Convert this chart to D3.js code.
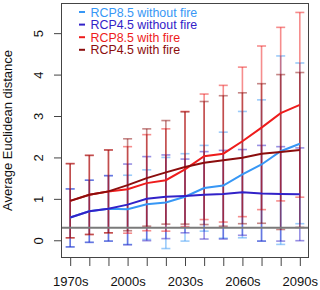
<!DOCTYPE html>
<html>
<head>
<meta charset="utf-8">
<script src="https://cdn.jsdelivr.net/npm/d3@7"></script>
<style>
  body { margin: 0; background: #fff; }
  svg { display: block; font-family: 'Liberation Sans', Arial, sans-serif; }
</style>
</head>
<body>
<div id="chart"></div>
<script>
const decades = ['1970s', '1980s', '1990s', '2000s', '2010s', '2020s', '2030s',
  '2040s', '2050s', '2060s', '2070s', '2080s', '2090s'];
const shown_labels = ['1970s', '2000s', '2030s', '2060s', '2090s'];
const y_ticks = [0, 1, 2, 3, 4, 5];
const threshold = 0.3;

const series_names = ['RCP8.5 without fire', 'RCP4.5 without fire', 'RCP8.5 with fire', 'RCP4.5 with fire'];
const series_colors = ['#3797f5', '#3222c8', '#ee1c1c', '#8b0d0d'];

// mean of each series, one value per decade
const mean_85_nofire = [0.55, 0.70, 0.76, 0.75, 0.87, 0.91, 1.05, 1.26, 1.32, 1.59, 1.83, 2.15, 2.33];
const mean_45_nofire = [0.55, 0.70, 0.76, 0.86, 1.00, 1.05, 1.07, 1.10, 1.12, 1.16, 1.13, 1.12, 1.11];
const mean_85_fire = [0.95, 1.10, 1.18, 1.23, 1.38, 1.45, 1.71, 2.03, 2.09, 2.39, 2.72, 3.07, 3.27];
const mean_45_fire = [0.95, 1.10, 1.18, 1.33, 1.50, 1.64, 1.77, 1.87, 1.93, 1.99, 2.09, 2.13, 2.18];

// error bar ends
const low_85_nofire = [-0.16, -0.05, -0.02, -0.10, 0.02, -0.20, -0.02, 0.22, 0.05, 0.06, -0.02, -0.10, 0.40];
const high_85_nofire = [1.24, 1.45, 1.56, 1.57, 1.70, 2.00, 2.09, 2.29, 2.61, 3.11, 3.39, 4.45, 4.28];
const low_45_nofire = [-0.16, -0.05, -0.02, -0.11, -0.01, 0.04, 0.18, 0.03, 0.03, 0.12, -0.02, -0.02, -0.01];
const high_45_nofire = [1.24, 1.45, 1.56, 1.84, 2.02, 2.06, 1.96, 2.14, 2.17, 2.19, 2.29, 2.26, 2.23];
const low_85_fire = [0.06, 0.14, 0.18, 0.17, 0.23, 0.22, 0.33, 0.50, 0.44, 0.57, 0.74, 0.95, 1.04];
const high_85_fire = [1.85, 2.05, 2.18, 2.26, 2.55, 2.69, 3.11, 3.53, 3.74, 4.18, 4.69, 5.14, 5.50];
const low_45_fire = [0.06, 0.14, 0.18, 0.23, 0.34, 0.39, 0.39, 0.38, 0.34, 0.40, 0.41, 0.26, 0.31];
const high_45_fire = [1.85, 2.05, 2.18, 2.45, 2.69, 2.89, 3.10, 3.35, 3.49, 3.56, 3.78, 4.00, 4.05];

const series = [
  { mean: mean_85_nofire, low: low_85_nofire, high: high_85_nofire },
  { mean: mean_45_nofire, low: low_45_nofire, high: high_45_nofire },
  { mean: mean_85_fire, low: low_85_fire, high: high_85_fire },
  { mean: mean_45_fire, low: low_45_fire, high: high_45_fire },
].map((s, i) => Object.assign(s, { name: series_names[i], color: series_colors[i] }));

const width = 320;
const height = 290;
const box = { left: 61, right: 309, top: 3, bottom: 258 };

const svg = d3.select('#chart').append('svg')
  .attr('width', width)
  .attr('height', height);

// R style 4% padding on the data range
const all_vals = series.flatMap(s => s.low.concat(s.high));
const y_min = d3.min(all_vals);
const y_max = d3.max(all_vals);
const pad = (y_max - y_min) * 0.04;

const x = d3.scalePoint()
  .domain(decades)
  .range([box.left, box.right])
  .padding(0.48);

const y = d3.scaleLinear()
  .domain([y_min - pad, y_max + pad])
  .range([box.bottom, box.top]);

// error bars first, lines on top
const cap = 4.5;
series.forEach((s) => {
  const g = svg.append('g')
    .attr('stroke', s.color)
    .attr('stroke-opacity', 0.5)
    .attr('stroke-width', 1.6)
    .attr('fill', 'none');
  decades.forEach((d, i) => {
    const cx = x(d);
    g.append('line')
      .attr('x1', cx).attr('x2', cx)
      .attr('y1', y(s.low[i])).attr('y2', y(s.high[i]));
    g.append('line')
      .attr('x1', cx - cap).attr('x2', cx + cap)
      .attr('y1', y(s.low[i])).attr('y2', y(s.low[i]));
    g.append('line')
      .attr('x1', cx - cap).attr('x2', cx + cap)
      .attr('y1', y(s.high[i])).attr('y2', y(s.high[i]));
  });
});

const line = d3.line()
  .x((v, i) => x(decades[i]))
  .y(v => y(v));

// 4.5 drawn after 8.5 so it sits on top where they share the historical part
series.forEach((s) => {
  svg.append('path')
    .datum(s.mean)
    .attr('d', line)
    .attr('fill', 'none')
    .attr('stroke', s.color)
    .attr('stroke-width', 2);
});

// reference line
svg.append('line')
  .attr('x1', box.left).attr('x2', box.right)
  .attr('y1', y(threshold)).attr('y2', y(threshold))
  .attr('stroke', '#7a7a7a')
  .attr('stroke-width', 2);

// box
svg.append('rect')
  .attr('x', box.left + 0.5)
  .attr('y', box.top + 0.5)
  .attr('width', box.right - box.left - 1)
  .attr('height', box.bottom - box.top - 1)
  .attr('fill', 'none')
  .attr('stroke', '#444')
  .attr('stroke-width', 1);

// x axis
const x_axis = svg.append('g')
  .attr('transform', `translate(0,${box.bottom})`)
  .call(d3.axisBottom(x)
    .tickSize(8)
    .tickPadding(11)
    .tickFormat(d => (shown_labels.indexOf(d) > -1 ? d : '')));
x_axis.select('.domain').remove();
x_axis.selectAll('line').attr('stroke', '#444');
x_axis.selectAll('text')
  .attr('font-size', '13px')
  .attr('font-family', "'Liberation Sans', Arial, sans-serif")
  .attr('fill', '#111');

// y axis
const y_axis = svg.append('g')
  .attr('transform', `translate(${box.left},0)`)
  .call(d3.axisLeft(y)
    .tickValues(y_ticks)
    .tickSize(7)
    .tickFormat(d3.format('d')));
y_axis.select('.domain').remove();
y_axis.selectAll('line').attr('stroke', '#444');
y_axis.selectAll('text')
  .attr('x', null)
  .attr('dy', null)
  .attr('transform', 'translate(-18,0) rotate(-90)')
  .attr('text-anchor', 'middle')
  .attr('font-size', '13px')
  .attr('font-family', "'Liberation Sans', Arial, sans-serif")
  .attr('fill', '#111');

svg.append('text')
  .attr('transform', `translate(12,${(box.top + box.bottom) / 2}) rotate(-90)`)
  .attr('text-anchor', 'middle')
  .attr('font-size', '13px')
  .attr('fill', '#111')
  .text('Average Euclidean distance');

// legend
const legend = svg.append('g');
series.forEach((s, i) => {
  const base = 16.5 + i * 12.6;
  legend.append('line')
    .attr('x1', 79).attr('x2', 85)
    .attr('y1', base - 4.5).attr('y2', base - 4.5)
    .attr('stroke', s.color)
    .attr('stroke-width', 2);
  legend.append('text')
    .attr('x', 90.5)
    .attr('y', base)
    .attr('font-size', '12.4px')
    .attr('fill', s.color)
    .text(s.name);
});
</script>
</body>
</html>
